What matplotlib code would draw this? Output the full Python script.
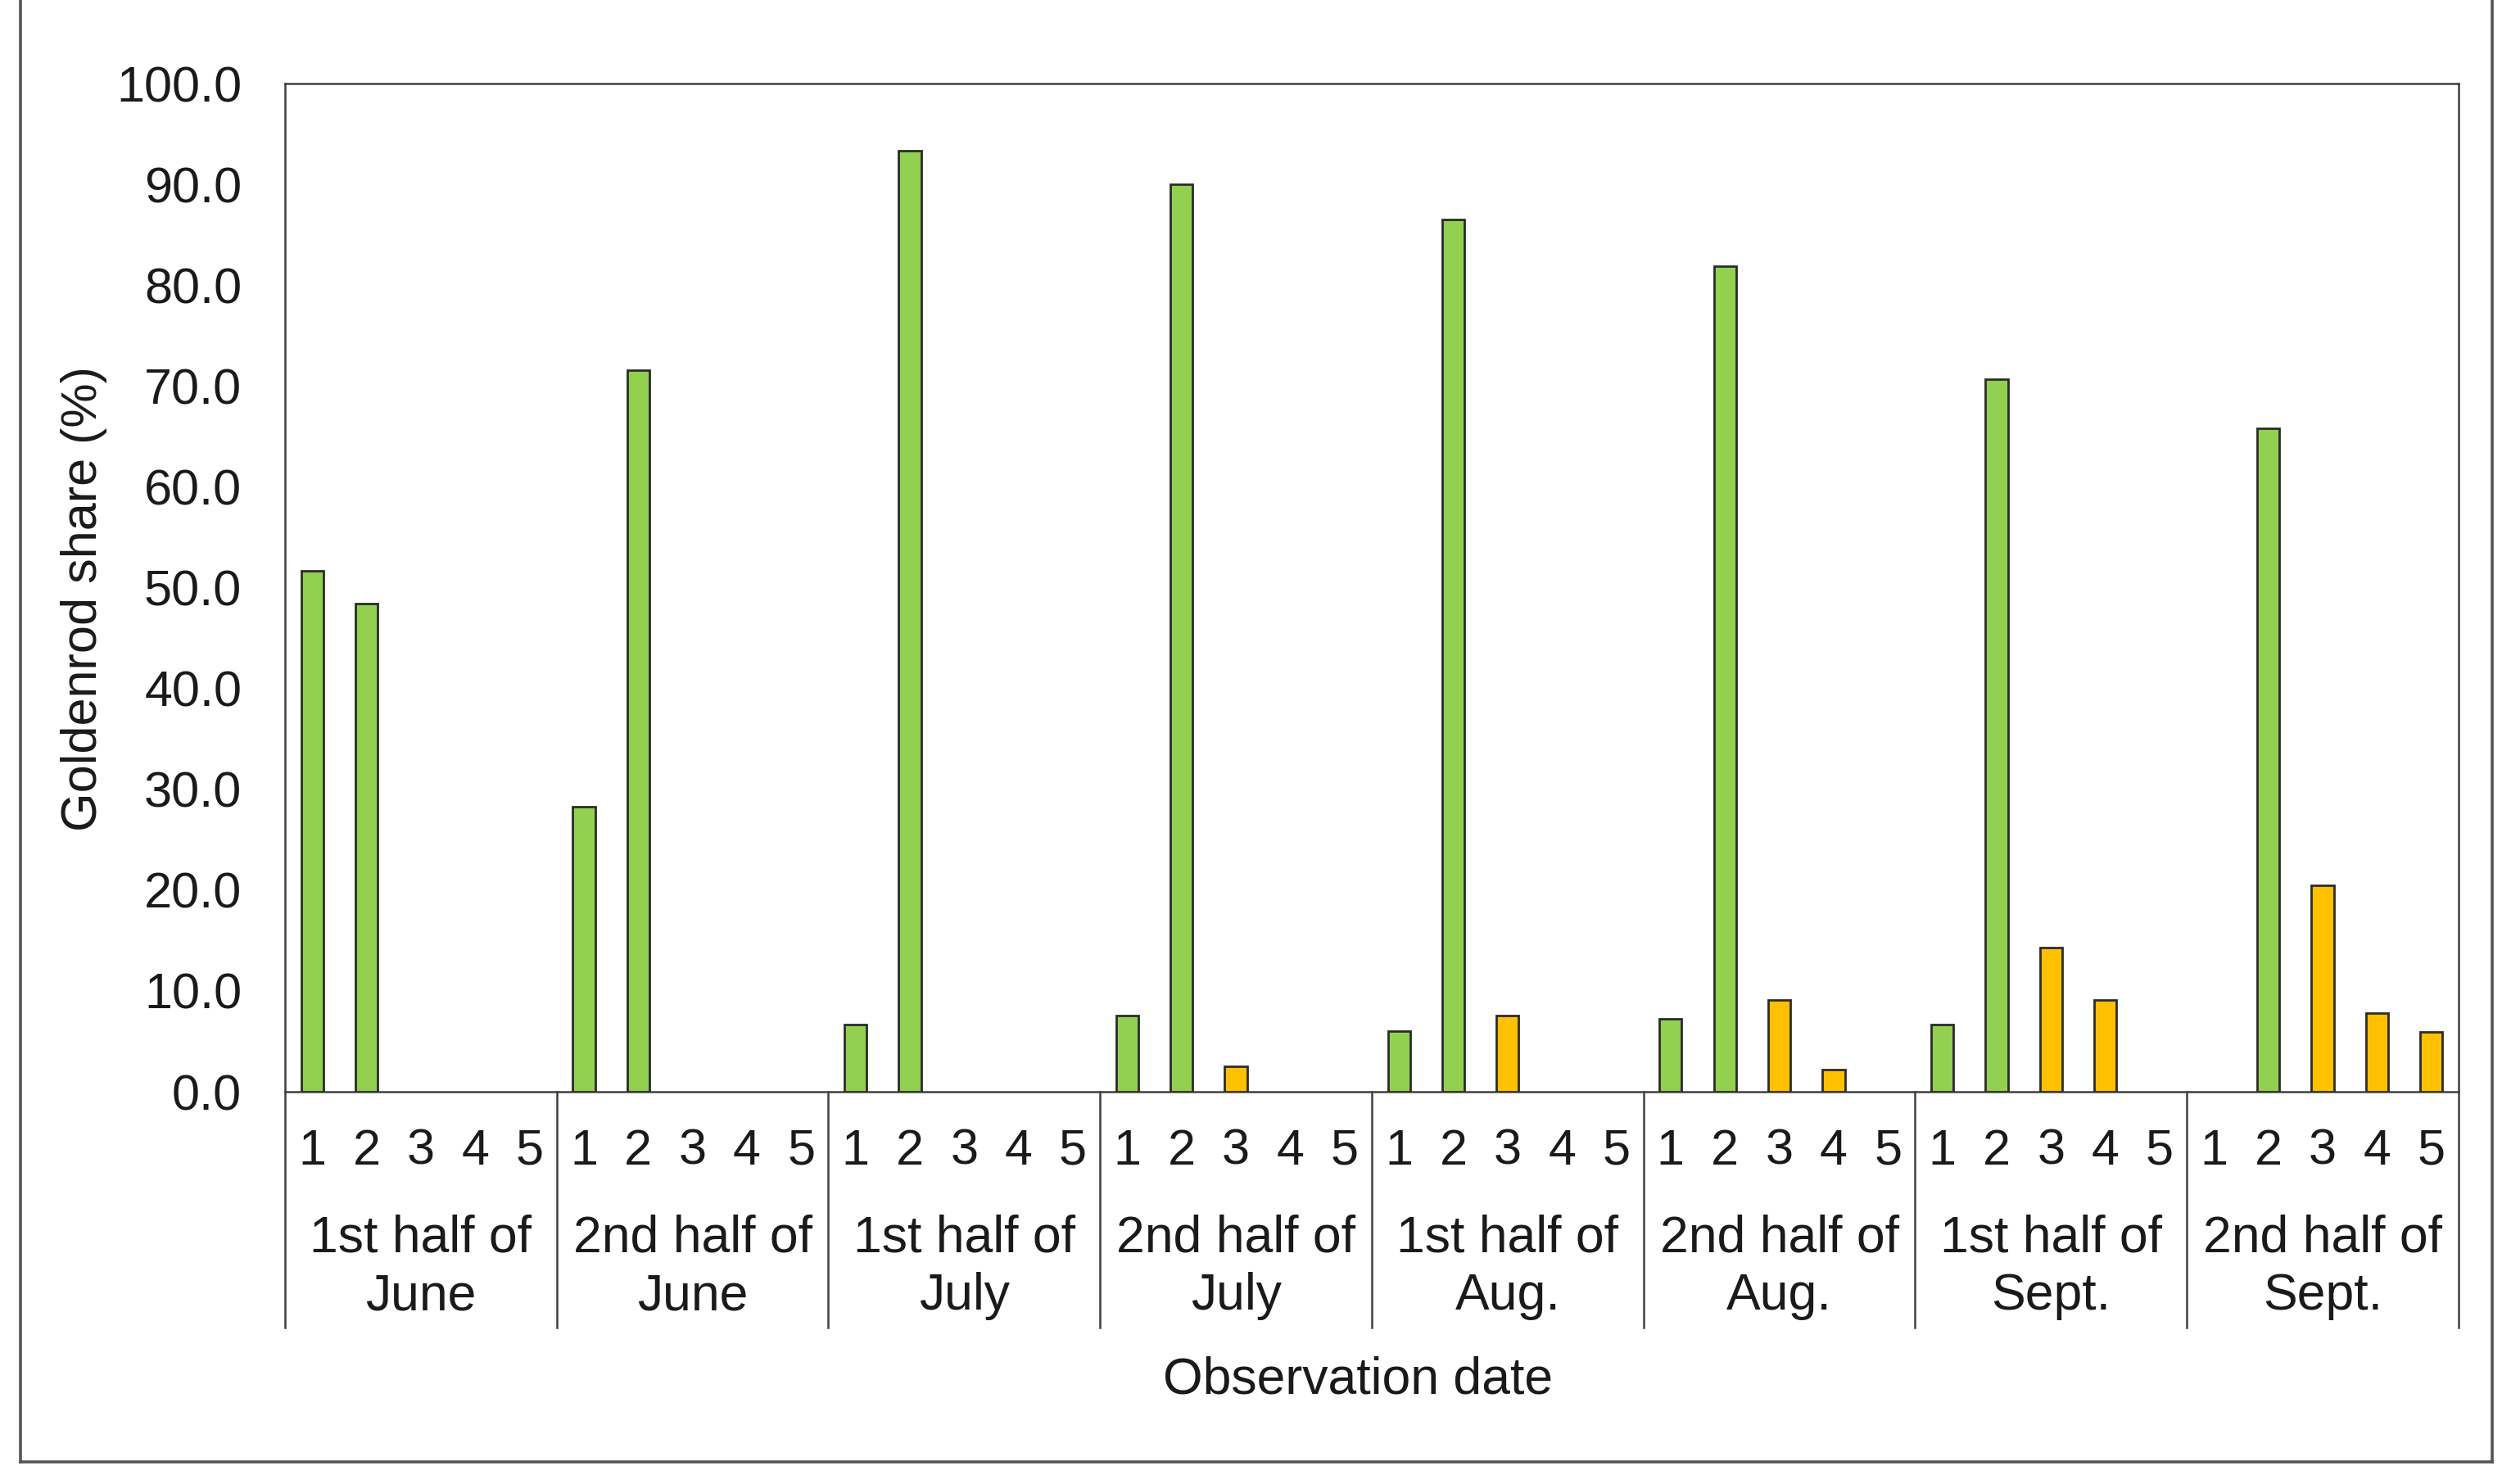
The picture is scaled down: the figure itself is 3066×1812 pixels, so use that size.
import numpy as np
import matplotlib
matplotlib.use("Agg")
import matplotlib.pyplot as plt
from matplotlib.lines import Line2D
from matplotlib.transforms import blended_transform_factory

plt.rcParams["font.family"] = ["Liberation Sans", "DejaVu Sans"]

# observation periods (groups) and plot numbers within each
periods = ["1st half of\nJune", "2nd half of\nJune", "1st half of\nJuly", "2nd half of\nJuly",
           "1st half of\nAug.", "2nd half of\nAug.", "1st half of\nSept.", "2nd half of\nSept."]
plots = ["1", "2", "3", "4", "5"]

# goldenrod share (%) per plot 1..5 for each period
june_1 = [51.7, 48.4, 0.0, 0.0, 0.0]
june_2 = [28.3, 71.6, 0.0, 0.0, 0.0]
july_1 = [6.7, 93.3, 0.0, 0.0, 0.0]
july_2 = [7.6, 90.0, 2.5, 0.0, 0.0]
aug_1 = [6.0, 86.5, 7.6, 0.0, 0.0]
aug_2 = [7.2, 81.9, 9.1, 2.2, 0.0]
sept_1 = [6.7, 70.7, 14.3, 9.1, 0.0]
sept_2 = [0.0, 65.8, 20.5, 7.8, 5.9]

plot_colors = ["#92D050", "#92D050", "#FFC000", "#FFC000", "#FFC000"]

values = np.array([june_1, june_2, july_1, july_2, aug_1, aug_2, sept_1, sept_2]).ravel()
colors = np.array(plot_colors * len(periods))
x = np.arange(len(values))
n_plots = len(plots)

text_color = "#1a1a1a"
line_color = "#404040"

fig = plt.figure(figsize=(15.33, 9.06), dpi=200)
ax = fig.add_axes([0.1135, 0.2643, 0.8656, 0.6794])

mask = values > 0
ax.bar(x[mask], values[mask], width=0.41, color=colors[mask],
       edgecolor="#2b2b2b", linewidth=1.0, zorder=3)

ax.set_xlim(-0.5, len(values) - 0.5)
ax.set_ylim(0, 100)
ax.set_yticks(np.arange(0, 101, 10))
ax.set_yticklabels([f"{v:.1f}" for v in np.arange(0, 101, 10)], fontsize=22, color=text_color)
ax.tick_params(axis="y", length=0, pad=19)

ax.set_xticks(x)
ax.set_xticklabels(plots * len(periods), fontsize=22, color=text_color)
ax.tick_params(axis="x", length=0, pad=16)

for s in ax.spines.values():
    s.set_color(line_color)
    s.set_linewidth(0.9)

# group separators below the axis and period labels
trans = blended_transform_factory(ax.transData, ax.transAxes)
sep_bottom = -0.234
for k in range(len(periods) + 1):
    xb = k * n_plots - 0.5
    ax.plot([xb, xb], [0, sep_bottom], transform=trans, color=line_color,
            linewidth=0.9, clip_on=False)
for k, name in enumerate(periods):
    xc = k * n_plots + (n_plots - 1) / 2
    ax.text(xc, -0.174, name, transform=trans, ha="center", va="center",
            fontsize=22.5, color=text_color, linespacing=1.25)

fig.text(0.5408, 0.070, "Observation date", ha="center", va="center",
         fontsize=22.5, color=text_color)
fig.text(0.0333, 0.5966, "Goldenrod share (%)", ha="center", va="center",
         rotation=90, fontsize=22, color=text_color)

# outer frame (top edge is cut off in the original)
frame_kw = dict(color="#555555", linewidth=1.3, transform=fig.transFigure)
fig.add_artist(Line2D([0.0082, 0.0082], [0.0149, 1.0], **frame_kw))
fig.add_artist(Line2D([0.9925, 0.9925], [0.0149, 1.0], **frame_kw))
fig.add_artist(Line2D([0.0082, 0.9925], [0.0149, 0.0149], **frame_kw))

fig.savefig("out.png", dpi=200, facecolor="white")
